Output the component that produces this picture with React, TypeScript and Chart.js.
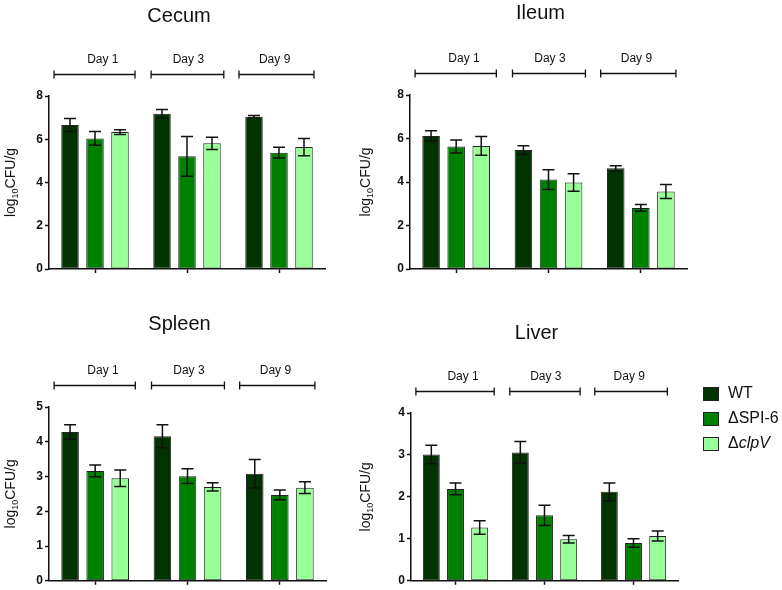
import React, { useEffect, useRef } from "react";
import { Chart, registerables } from "chart.js";

Chart.register(...registerables);

const DAYS = ["Day 1", "Day 3", "Day 9"];
const STRAINS = ["WT", "ΔSPI-6", "ΔclpV"];
const COLORS = ["#003300", "#008000", "#99ff99"];

// Cecum
const cecumWT = [6.66, 7.18, 7.04];
const cecumSPI6 = [6.04, 5.21, 5.38];
const cecumClpV = [6.33, 5.81, 5.64];
const cecumWTErr = [0.3, 0.2, 0.06];
const cecumSPI6Err = [0.32, 0.92, 0.25];
const cecumClpVErr = [0.11, 0.28, 0.4];

// Ileum
const ileumWT = [6.12, 5.47, 4.63];
const ileumSPI6 = [5.63, 4.11, 2.81];
const ileumClpV = [5.66, 3.98, 3.56];
const ileumWTErr = [0.24, 0.2, 0.12];
const ileumSPI6Err = [0.3, 0.45, 0.15];
const ileumClpVErr = [0.43, 0.4, 0.32];

// Spleen
const spleenWT = [4.28, 4.16, 3.08];
const spleenSPI6 = [3.16, 3.01, 2.47];
const spleenClpV = [2.95, 2.7, 2.68];
const spleenWTErr = [0.21, 0.33, 0.41];
const spleenSPI6Err = [0.17, 0.21, 0.14];
const spleenClpVErr = [0.24, 0.12, 0.17];

// Liver
const liverWT = [3.01, 3.06, 2.12];
const liverSPI6 = [2.19, 1.56, 0.9];
const liverClpV = [1.27, 0.99, 1.07];
const liverWTErr = [0.22, 0.26, 0.21];
const liverSPI6Err = [0.14, 0.24, 0.1];
const liverClpVErr = [0.16, 0.09, 0.12];

const FONT = "'Liberation Sans', Arial, Helvetica, sans-serif";

// bracket extents and label shift, in category-width units
const BRACKET_LEFT = [-0.445, -0.39, -0.435];
const BRACKET_RIGHT = [0.435, 0.4, 0.38];
const LABEL_SHIFT = [0.09, 0.01, -0.02];

type PanelCfg = {
  title: string;
  values: number[][];
  errors: number[][];
  yMax: number;
  yStep: number;
  box: { x: number; y: number; w: number; h: number };
  area: { l: number; r: number; t: number; b: number };
  titleBaseline: number;
  yTitleBaseline: number;
  legend?: boolean;
};

const PANELS: PanelCfg[] = [
  {
    title: "Cecum",
    values: [cecumWT, cecumSPI6, cecumClpV],
    errors: [cecumWTErr, cecumSPI6Err, cecumClpVErr],
    yMax: 8,
    yStep: 2,
    box: { x: 0, y: 0, w: 340, h: 290 },
    area: { l: 49, r: 325, t: 96, b: 269 },
    titleBaseline: 22,
    yTitleBaseline: 15,
  },
  {
    title: "Ileum",
    values: [ileumWT, ileumSPI6, ileumClpV],
    errors: [ileumWTErr, ileumSPI6Err, ileumClpVErr],
    yMax: 8,
    yStep: 2,
    box: { x: 340, y: 0, w: 442, h: 290 },
    area: { l: 70, r: 347, t: 95, b: 269 },
    titleBaseline: 19,
    yTitleBaseline: 30,
  },
  {
    title: "Spleen",
    values: [spleenWT, spleenSPI6, spleenClpV],
    errors: [spleenWTErr, spleenSPI6Err, spleenClpVErr],
    yMax: 5,
    yStep: 1,
    box: { x: 0, y: 290, w: 340, h: 300 },
    area: { l: 49, r: 326, t: 117, b: 292 },
    titleBaseline: 40,
    yTitleBaseline: 15,
  },
  {
    title: "Liver",
    values: [liverWT, liverSPI6, liverClpV],
    errors: [liverWTErr, liverSPI6Err, liverClpVErr],
    yMax: 4,
    yStep: 1,
    box: { x: 340, y: 290, w: 442, h: 300 },
    area: { l: 71, r: 338, t: 123, b: 292 },
    titleBaseline: 49,
    yTitleBaseline: 30,
    legend: true,
  },
];

const Y_AXIS_W = 20;
const X_AXIS_H = 10;

function makeOverlay(p: PanelCfg) {
  return {
    id: "overlay_" + p.title,
    afterDatasetsDraw(chart: any) {
      const ctx = chart.ctx;
      const y = chart.scales.y;
      ctx.save();
      ctx.strokeStyle = "#111";
      ctx.lineWidth = 1.5;
      p.values.forEach((series, di) => {
        const meta = chart.getDatasetMeta(di);
        meta.data.forEach((el: any, j: number) => {
          const v = series[j];
          const e = p.errors[di][j];
          const yt = y.getPixelForValue(v + e);
          const yb = y.getPixelForValue(v - e);
          const x = el.x;
          ctx.beginPath();
          ctx.moveTo(x, yt);
          ctx.lineTo(x, yb);
          ctx.moveTo(x - 6, yt);
          ctx.lineTo(x + 6, yt);
          ctx.moveTo(x - 6, yb);
          ctx.lineTo(x + 6, yb);
          ctx.stroke();
        });
      });
      ctx.restore();
    },
    afterDraw(chart: any) {
      const ctx = chart.ctx;
      const area = chart.chartArea;
      const xs = chart.scales.x;
      const cw = (area.right - area.left) / DAYS.length;
      ctx.save();
      ctx.fillStyle = "#111";
      ctx.strokeStyle = "#111";
      // title
      ctx.font = `20px ${FONT}`;
      ctx.textAlign = "center";
      ctx.textBaseline = "alphabetic";
      ctx.fillText(p.title, (area.left + area.right) / 2 - 8, p.titleBaseline);
      // day brackets + labels
      ctx.lineWidth = 1.3;
      const by = Math.round(area.top - 22) + 0.5;
      DAYS.forEach((d, i) => {
        const c = xs.getPixelForValue(i);
        const x0 = c + BRACKET_LEFT[i] * cw;
        const x1 = c + BRACKET_RIGHT[i] * cw;
        ctx.beginPath();
        ctx.moveTo(x0, by);
        ctx.lineTo(x1, by);
        ctx.moveTo(x0, by - 4);
        ctx.lineTo(x0, by + 4);
        ctx.moveTo(x1, by - 4);
        ctx.lineTo(x1, by + 4);
        ctx.stroke();
        ctx.font = `12px ${FONT}`;
        ctx.textAlign = "center";
        ctx.fillText(d, (x0 + x1) / 2 + LABEL_SHIFT[i] * cw, area.top - 33);
      });
      // y title with subscript
      const cy = (area.top + area.bottom) / 2;
      ctx.translate(p.yTitleBaseline, cy);
      ctx.rotate(-Math.PI / 2);
      ctx.textAlign = "left";
      const big = `14px ${FONT}`;
      const small = `9px ${FONT}`;
      ctx.font = big;
      const w1 = ctx.measureText("log").width;
      const w3 = ctx.measureText("CFU/g").width;
      ctx.font = small;
      const w2 = ctx.measureText("10").width;
      let x = -(w1 + w2 + w3) / 2;
      ctx.font = big;
      ctx.fillText("log", x, 0);
      x += w1;
      ctx.font = small;
      ctx.fillText("10", x, 3);
      x += w2;
      ctx.font = big;
      ctx.fillText("CFU/g", x, 0);
      ctx.restore();

      if (p.legend) {
        ctx.save();
        const lx = 363;
        const rows = [104, 129, 154];
        STRAINS.forEach((s, i) => {
          const cyr = rows[i];
          ctx.fillStyle = COLORS[i];
          ctx.fillRect(lx, cyr - 7, 16, 14);
          ctx.strokeStyle = "#222";
          ctx.lineWidth = 1;
          ctx.strokeRect(lx + 0.5, cyr - 6.5, 15, 13);
          ctx.fillStyle = "#111";
          ctx.textAlign = "left";
          ctx.textBaseline = "middle";
          const tx = lx + 25;
          if (s.startsWith("Δ") && s !== "ΔSPI-6") {
            ctx.font = `16px ${FONT}`;
            ctx.fillText("Δ", tx, cyr);
            const dw = ctx.measureText("Δ").width;
            ctx.font = `italic 16px ${FONT}`;
            ctx.fillText(s.slice(1), tx + dw, cyr);
          } else {
            ctx.font = `16px ${FONT}`;
            ctx.fillText(s, tx, cyr);
          }
        });
        ctx.restore();
      }
    },
  };
}

function Panel({ p }: { p: PanelCfg }) {
  const ref = useRef<HTMLCanvasElement>(null);
  useEffect(() => {
    const canvas = ref.current!;
    const chart = new Chart(canvas, {
      type: "bar",
      data: {
        labels: DAYS,
        datasets: STRAINS.map((s, i) => ({
          label: s,
          data: p.values[i],
          backgroundColor: COLORS[i],
          borderColor: "#222",
          borderWidth: 1,
          borderSkipped: false,
          barPercentage: 0.7,
          categoryPercentage: 0.815,
        })),
      },
      options: {
        responsive: false,
        animation: false,
        devicePixelRatio: 1,
        layout: {
          padding: {
            left: p.area.l - Y_AXIS_W,
            right: p.box.w - p.area.r,
            top: p.area.t,
            bottom: p.box.h - p.area.b - X_AXIS_H,
          },
        },
        plugins: {
          legend: { display: false },
          tooltip: { enabled: false },
          title: { display: false },
        },
        scales: {
          x: {
            type: "category",
            offset: true,
            afterFit: (s: any) => {
              s.height = X_AXIS_H;
            },
            grid: {
              display: true,
              offset: false,
              drawOnChartArea: false,
              drawTicks: true,
              tickLength: 4,
              tickColor: "#111",
              tickWidth: 1.5,
            },
            border: { display: true, color: "#111", width: 1.5 },
            ticks: { display: false },
          },
          y: {
            min: 0,
            max: p.yMax,
            afterFit: (s: any) => {
              s.width = Y_AXIS_W;
            },
            grid: {
              display: true,
              drawOnChartArea: false,
              drawTicks: true,
              tickLength: 4,
              tickColor: "#111",
              tickWidth: 1.5,
            },
            border: { display: true, color: "#111", width: 1.5 },
            ticks: {
              stepSize: p.yStep,
              padding: 2,
              color: "#111",
              font: { family: FONT, size: 12, weight: "bold" },
            },
          },
        },
      },
      plugins: [makeOverlay(p)],
    } as any);
    return () => chart.destroy();
  }, []);
  return (
    <canvas
      ref={ref}
      width={p.box.w}
      height={p.box.h}
      style={{
        position: "absolute",
        left: p.box.x,
        top: p.box.y,
        width: p.box.w,
        height: p.box.h,
        display: "block",
      }}
    />
  );
}

export default function App() {
  return (
    <div
      style={{
        position: "absolute",
        left: 0,
        top: 0,
        width: 782,
        height: 590,
        background: "#fff",
      }}
    >
      {PANELS.map((p) => (
        <Panel key={p.title} p={p} />
      ))}
    </div>
  );
}
